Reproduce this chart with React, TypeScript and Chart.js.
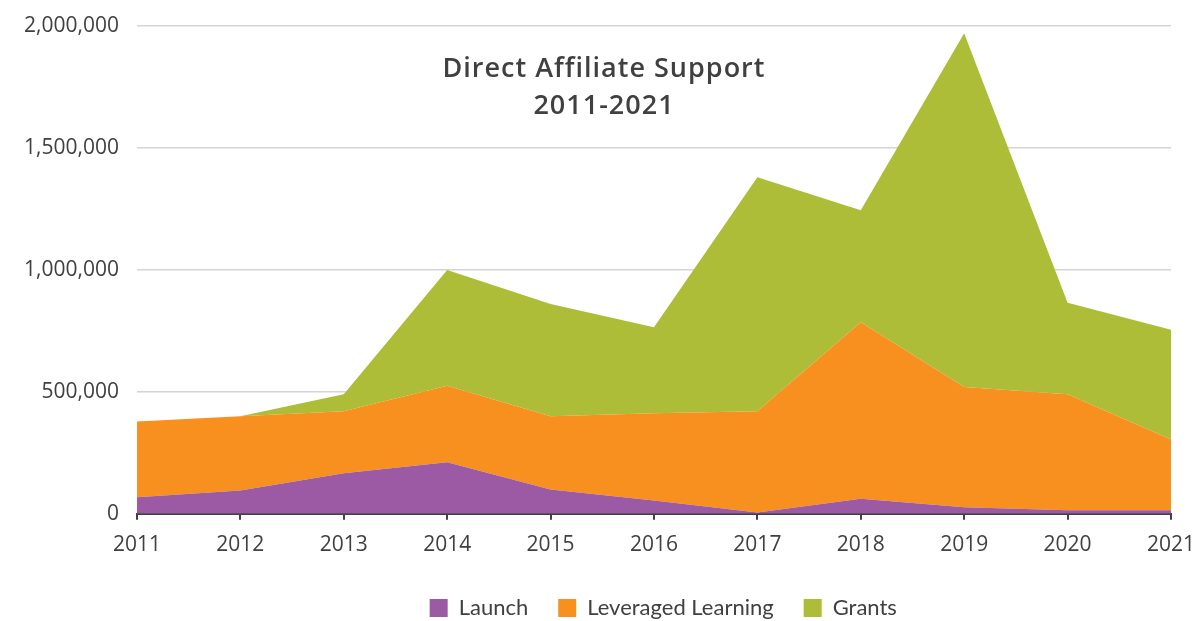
import React, { useEffect, useRef } from "react";
import { Chart, registerables } from "chart.js";

Chart.register(...registerables);

const years = ["2011", "2012", "2013", "2014", "2015", "2016", "2017", "2018", "2019", "2020", "2021"];
const launch = [68000, 96000, 166000, 211000, 100000, 55000, 5000, 62000, 27000, 15000, 15000];
const leveragedLearning = [310000, 304000, 254000, 314000, 300000, 357000, 415000, 723000, 493000, 475000, 290000];
const grants = [0, 0, 70000, 475000, 460000, 353000, 960000, 460000, 1450000, 375000, 450000];
const titleLines = ["Direct Affiliate Support", "2011-2021"];

const LATO = "Lato, 'Open Sans', sans-serif";
const OPEN = "'Open Sans', Lato, sans-serif";
const TEXT = "#404040";

const titlePlugin = {
  id: "innerTitle",
  afterDraw(chart: any) {
    const { ctx, chartArea } = chart;
    ctx.save();
    ctx.fillStyle = TEXT;
    ctx.font = `600 27px ${OPEN}`;
    try {
      (ctx as any).letterSpacing = "1px";
    } catch (e) {}
    ctx.textAlign = "center";
    ctx.textBaseline = "alphabetic";
    const cx = chartArea.left + (chartArea.right - chartArea.left) * 0.4507 + 1;
    ctx.fillText(titleLines[0], cx, chartArea.top + 50.5);
    ctx.fillText(titleLines[1], cx, chartArea.top + 87.5);
    ctx.restore();
  },
};

const legendShift = {
  id: "legendShift",
  afterLayout(chart: any) {
    const lg = chart.legend;
    if (lg) {
      const target = chart.chartArea.left + (chart.chartArea.right - chart.chartArea.left) * 0.509;
      const d = target - (lg.left + lg.right) / 2;
      lg.left += d;
      lg.right += d;
    }
  },
};

export default function App() {
  const ref = useRef<HTMLCanvasElement>(null);
  useEffect(() => {
    const chart = new Chart(ref.current!, {
      type: "line",
      data: {
        labels: years,
        datasets: [
          { label: "Launch", data: launch, backgroundColor: "#9B5AA3", borderWidth: 0, pointRadius: 0, fill: "origin", tension: 0 },
          { label: "Leveraged Learning", data: leveragedLearning, backgroundColor: "#F7901E", borderWidth: 0, pointRadius: 0, fill: "-1", tension: 0 },
          { label: "Grants", data: grants, backgroundColor: "#AEBD38", borderWidth: 0, pointRadius: 0, fill: "-1", tension: 0 },
        ],
      },
      options: {
        animation: false,
        responsive: true,
        maintainAspectRatio: false,
        layout: { padding: { top: 26, right: 24, left: 6, bottom: -8 } },
        plugins: {
          title: { display: false },
          tooltip: { enabled: false },
          legend: {
            position: "bottom",
            labels: {
              boxWidth: 18,
              boxHeight: 18,
              padding: 30,
              color: TEXT,
              font: { family: LATO, size: 22 },
            },
          },
        },
        scales: {
          x: {
            offset: false,
            grid: { display: true, drawOnChartArea: false, drawTicks: true, tickLength: 6, color: TEXT, lineWidth: 2 },
            border: { display: true, color: TEXT, width: 2 },
            ticks: { color: TEXT, font: { family: OPEN, size: 21 }, padding: 13, maxRotation: 0 },
            afterFit: (scale: any) => {
              scale.paddingLeft = 0;
              scale.paddingRight = 0;
              scale.height -= 4;
            },
          },
          y: {
            stacked: true,
            min: 0,
            max: 2000000,
            grid: { color: "#d4d4d4", lineWidth: 1.5, drawTicks: false },
            border: { display: false },
            ticks: {
              stepSize: 500000,
              padding: 18,
              color: TEXT,
              font: { family: OPEN, size: 21 },
              callback: (v: any) => Number(v).toLocaleString("en-US"),
            },
            afterFit: (scale: any) => {
              scale.paddingTop = 0;
              scale.paddingBottom = 0;
            },
          },
        },
      },
      plugins: [titlePlugin, legendShift],
    });
    return () => chart.destroy();
  }, []);
  return (
    <div style={{ position: "absolute", left: 0, top: 0, width: 1195, height: 621 }}>
      <canvas ref={ref} />
    </div>
  );
}
